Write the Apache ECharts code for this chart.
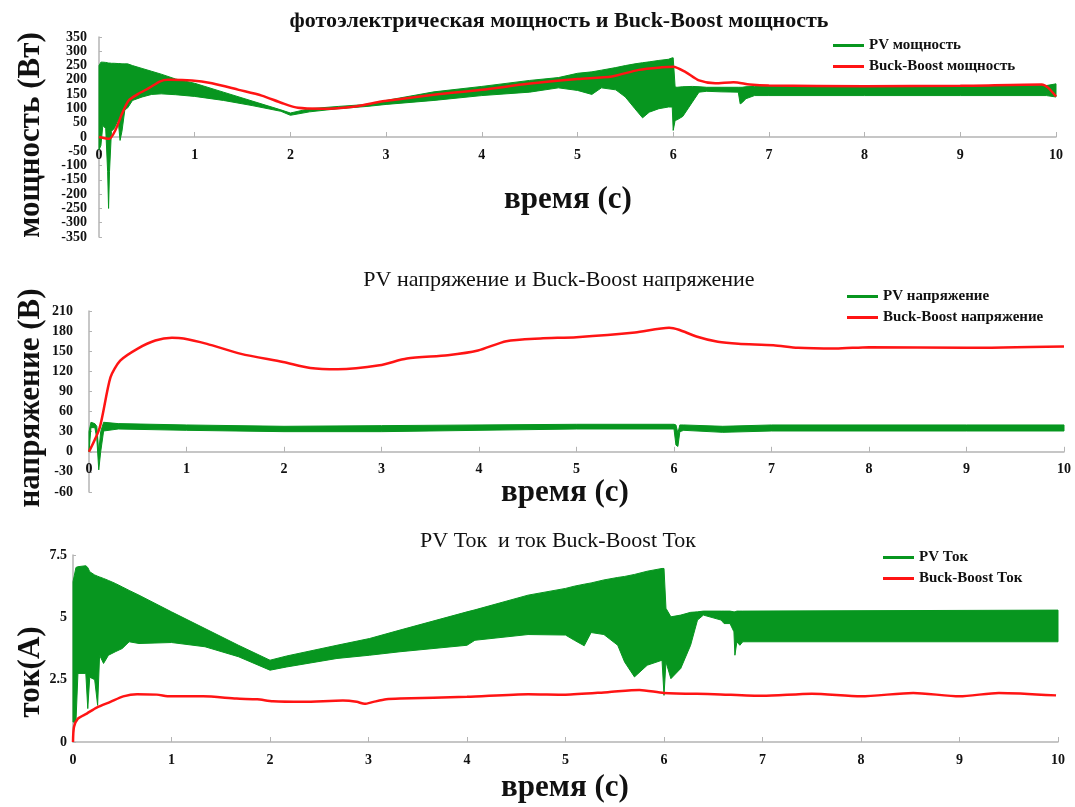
<!DOCTYPE html>
<html>
<head>
<meta charset="utf-8">
<title>PV и Buck-Boost</title>
<script src="https://cdn.jsdelivr.net/npm/echarts@6/dist/echarts.min.js"></script>
<style>
  html, body { margin: 0; padding: 0; background: #fff; }
  #main { width: 1075px; height: 807px; }
</style>
</head>
<body>
<div id="main"></div>
<script>
// ---------- данные ----------
// 1) мощность: зелёная полоса PV (верхняя/нижняя огибающая) и красная линия Buck-Boost
const pvPowerT = [0, 0.02, 0.04, 0.07, 0.09, 0.1, 0.11, 0.13, 0.16, 0.2, 0.22, 0.24, 0.27, 0.3, 0.35, 0.45, 0.55, 0.65, 0.8, 1.0,
  1.3, 1.6, 1.9, 2.0, 2.2, 2.5, 2.8, 3.0, 3.5, 4.0, 4.5, 4.8, 5.0, 5.15, 5.25, 5.4, 5.5, 5.6, 5.68, 5.75,
  5.85, 5.95, 5.99, 6.0, 6.02, 6.04, 6.1, 6.2, 6.27, 6.35, 6.5, 6.68, 6.7, 6.72, 6.76, 6.85, 7, 8, 9, 9.9, 10];
const pvPowerHigh = [250, 262, 262, 261, 260, 259, 259, 258, 258, 257, 257, 256, 256, 256, 250, 240, 230, 220, 203, 188,
  157, 126, 95, 84, 99, 107, 114, 128, 158, 177, 198, 208, 223, 228, 234, 243, 250, 256, 260, 263,
  268, 272, 277, 277, 175, 174, 176, 177, 176, 174, 174, 174, 174, 174, 176, 177, 177, 177, 178, 180, 186];
const pvPowerLow = [-45, -30, 40, 30, -120, -250, -120, 20, 30, 60, -12, 20, 95, 102, 128, 140, 149, 151, 148, 142,
  128, 110, 90, 76, 88, 99, 107, 114, 128, 145, 157, 172, 163, 149, 172, 165, 140, 99, 67, 87,
  99, 105, 105, 23, 58, 60, 72, 122, 157, 160, 158, 157, 116, 120, 134, 145, 145, 145, 145, 145, 140];
const bbPowerT = [0, 0.06, 0.11, 0.17, 0.24, 0.31, 0.41, 0.52, 0.64, 0.72, 0.97, 1.18, 1.46, 1.7, 1.91, 2.08, 2.33, 2.68, 2.95, 3.09,
  3.5, 4.0, 4.48, 5.0, 5.36, 5.64, 5.88, 6.0, 6.13, 6.27, 6.44, 6.63, 6.8, 7.0, 8.0, 9.0, 9.85, 9.92, 10];
const bbPower = [0, -4, -6, 23, 81, 128, 151, 171, 195, 200, 198, 188, 165, 145, 119, 102, 99, 107, 124, 130,
  148, 165, 186, 203, 212, 235, 244, 246, 227, 198, 188, 192, 184, 180, 178, 179, 184, 172, 142];

// 2) напряжение
const pvVoltT = [0, 0.02, 0.06, 0.08, 0.1, 0.12, 0.15, 0.3, 1, 2, 3, 4, 5, 6.0, 6.02, 6.04, 6.06, 6.1, 6.5, 7, 8, 9, 10];
const pvVoltHigh = [30, 44, 42, 38, 0, 30, 44, 42, 40, 38, 39, 40, 41, 41, 40, 28, 40, 40, 38, 40, 40, 40, 40];
const pvVoltLow = [0, 36, 36, 20, -27, 0, 31, 34, 32, 30, 30, 32, 34, 34, 10, 8, 30, 32, 29, 31, 31, 31, 31];
const bbVoltT = [0, 0.11, 0.22, 0.32, 0.5, 0.68, 0.85, 0.97, 1.21, 1.56, 1.99, 2.27, 2.55, 2.98, 3.26, 3.68, 3.99, 4.28, 4.63, 5.0,
  5.6, 5.95, 6.05, 6.23, 6.45, 6.66, 7.02, 7.27, 7.66, 8.0, 9.0, 10];
const bbVolt = [0, 36, 111, 136, 154, 166, 170, 169, 161, 146, 134, 125, 123, 129, 139, 144, 151, 165, 169, 171,
  178, 185, 182, 172, 164, 161, 159, 155, 154, 156, 155, 157];

// 3) ток
const pvCurT = [0, 0.03, 0.05, 0.13, 0.15, 0.17, 0.22, 0.25, 0.27, 0.31, 0.36, 0.43, 0.5, 0.57, 0.67, 1.0, 1.34, 1.68, 2.0, 2.17,
  2.68, 3.01, 3.32, 4.0, 4.08, 4.62, 5.0, 5.09, 5.19, 5.26, 5.39, 5.53, 5.6, 5.7, 5.83, 5.98, 6.0, 6.02, 6.07, 6.17,
  6.27, 6.34, 6.4, 6.58, 6.61, 6.67, 6.71, 6.72, 6.74, 6.77, 6.8, 10];
const pvCurHigh = [6.43, 7.0, 7.03, 7.07, 7.0, 6.83, 6.7, 6.65, 6.62, 6.56, 6.48, 6.36, 6.22, 6.08, 5.89, 5.22, 4.55, 3.88, 3.28, 3.45,
  3.88, 4.15, 4.49, 5.22, 5.3, 5.89, 6.16, 6.25, 6.33, 6.38, 6.5, 6.6, 6.64, 6.72, 6.85, 6.96, 6.96, 5.36, 5.02, 5.09,
  5.2, 5.22, 5.25, 5.25, 5.25, 5.25, 5.22, 5.22, 5.25, 5.25, 5.25, 5.29];
const pvCurLow = [0.8, 0.8, 2.75, 2.75, 1.34, 2.6, 2.5, 1.47, 3.48, 3.15, 3.48, 3.62, 3.75, 4.02, 3.95, 3.99, 3.82, 3.42, 2.88, 3.01,
  3.35, 3.48, 3.62, 3.88, 4.08, 4.31, 4.29, 4.08, 3.86, 4.39, 4.31, 3.88, 3.21, 2.61, 3.08, 3.28, 1.87, 3.21, 2.54, 2.95,
  3.88, 4.89, 5.09, 4.89, 4.75, 4.75, 4.42, 3.48, 4.02, 3.88, 4.02, 4.02];
const bbCurT = [0, 0.01, 0.05, 0.14, 0.24, 0.38, 0.51, 0.65, 0.85, 0.99, 1.32, 1.66, 1.87, 2.03, 2.34, 2.74, 2.88, 2.96, 3.05, 3.18,
  3.32, 4.0, 4.62, 5.0, 5.43, 5.75, 6.0, 6.51, 7.0, 7.5, 8.0, 8.53, 9.0, 9.4, 9.98];
const bbCur = [0, 0.6, 0.94, 1.14, 1.38, 1.61, 1.83, 1.92, 1.9, 1.83, 1.83, 1.74, 1.71, 1.63, 1.61, 1.66, 1.61, 1.53, 1.61, 1.71,
  1.74, 1.81, 1.92, 1.9, 2.0, 2.09, 1.97, 1.92, 1.85, 1.94, 1.83, 1.97, 1.83, 1.97, 1.87];

// ---------- оформление ----------
const GREEN = '#07961f';
const RED = '#ff1414';
const AXIS = '#b4b4b4';
const INK = '#111';
const FONT = '"Liberation Serif", "Times New Roman", serif';

function pairs(t, v) {
  return t.map((x, i) => [x, v[i]]);
}

// ось времени; offset поднимает её к нулю оси Y вместе с подписями
function xAxisCfg(grid, offset) {
  return {
    type: 'value', gridIndex: grid, min: 0, max: 10, interval: 1, offset: offset,
    axisLine: { onZero: false, lineStyle: { color: AXIS, width: 1.5 } },
    axisTick: { inside: true, length: 5, lineStyle: { color: AXIS } },
    axisLabel: { fontFamily: FONT, fontWeight: 'bold', fontSize: 14, color: INK, margin: 11 },
    splitLine: { show: false }
  };
}

function yAxisCfg(grid, min, max, interval, margin) {
  return {
    type: 'value', gridIndex: grid, min: min, max: max, interval: interval,
    axisLine: { show: true, onZero: false, lineStyle: { color: AXIS, width: 1.5 } },
    axisTick: { show: true, inside: true, length: 3, lineStyle: { color: AXIS } },
    axisLabel: { fontFamily: FONT, fontWeight: 'bold', fontSize: 14, color: INK, margin: margin },
    splitLine: { show: false }
  };
}

// зелёная полоса пульсаций: многоугольник между верхней и нижней огибающей,
// точки переводятся в пиксели через оси самой ECharts (api.coord)
function bandSeries(idx, name, t, hi, lo) {
  return {
    name: name, type: 'custom', coordinateSystem: 'cartesian2d',
    xAxisIndex: idx, yAxisIndex: idx, silent: true,
    itemStyle: { color: GREEN },
    encode: { x: 0, y: 1 },
    data: [[t[0], hi[0]]],
    renderItem: function (params, api) {
      const upper = t.map((x, i) => api.coord([x, hi[i]]));
      const lower = t.map((x, i) => api.coord([x, lo[i]])).reverse();
      return {
        type: 'polygon',
        shape: { points: upper.concat(lower) },
        style: { fill: GREEN, stroke: GREEN, lineWidth: 1 }
      };
    }
  };
}

function redSeries(idx, name, t, v) {
  return {
    name: name, type: 'line', xAxisIndex: idx, yAxisIndex: idx, symbol: 'none',
    smooth: 0.25, lineStyle: { color: RED, width: 2.5 }, itemStyle: { color: RED },
    data: pairs(t, v), z: 5
  };
}

function legendCfg(left, top, names) {
  return {
    orient: 'vertical', left: left, top: top, data: names, padding: 0,
    icon: 'rect', itemWidth: 31, itemHeight: 3, itemGap: 6,
    textStyle: { fontFamily: FONT, fontWeight: 'bold', fontSize: 15, color: INK }
  };
}

// текст по центру в заданной точке (заголовки и подписи осей)
function label(text, x, y, size, bold, vertical) {
  return {
    type: 'text', x: x, y: y, rotation: vertical ? Math.PI / 2 : 0,
    style: {
      text: text, fontFamily: FONT, fontWeight: bold ? 'bold' : 'normal', fontSize: size,
      fill: INK, align: 'center', verticalAlign: 'middle'
    }
  };
}

const chart = echarts.init(document.getElementById('main'), null, { renderer: 'canvas' });

const option = {
  animation: false,
  backgroundColor: '#fff',
  legend: [
    legendCfg(833, 38, ['PV мощность', 'Buck-Boost мощность']),
    legendCfg(847, 289, ['PV напряжение', 'Buck-Boost напряжение']),
    legendCfg(883, 550, ['PV Ток', 'Buck-Boost Ток'])
  ],
  grid: [
    { left: 99, top: 37, width: 957, height: 200 },
    { left: 89, top: 311, width: 975, height: 181 },
    { left: 73, top: 555, width: 985, height: 187 }
  ],
  xAxis: [xAxisCfg(0, -100), xAxisCfg(1, -40.2), xAxisCfg(2, 0)],
  yAxis: [
    yAxisCfg(0, -350, 350, 50, 12),
    yAxisCfg(1, -60, 210, 30, 16),
    yAxisCfg(2, 0, 7.5, 2.5, 6)
  ],
  graphic: [
    label('фотоэлектрическая мощность и Buck-Boost мощность', 559, 21, 22, true, false),
    label('PV напряжение и Buck-Boost напряжение', 559, 280, 22, false, false),
    label('PV Ток  и ток Buck-Boost Ток', 558, 541, 22, false, false),
    label('мощность (Вт)', 31, 135, 31, true, true),
    label('напряжение (В)', 31, 398, 31, true, true),
    label('ток(А)', 31, 672, 31, true, true),
    label('время (с)', 568, 200, 31, true, false),
    label('время (с)', 565, 493, 31, true, false),
    label('время (с)', 565, 788, 31, true, false)
  ],
  series: [
    bandSeries(0, 'PV мощность', pvPowerT, pvPowerHigh, pvPowerLow),
    redSeries(0, 'Buck-Boost мощность', bbPowerT, bbPower),
    bandSeries(1, 'PV напряжение', pvVoltT, pvVoltHigh, pvVoltLow),
    redSeries(1, 'Buck-Boost напряжение', bbVoltT, bbVolt),
    bandSeries(2, 'PV Ток', pvCurT, pvCurHigh, pvCurLow),
    redSeries(2, 'Buck-Boost Ток', bbCurT, bbCur)
  ]
};

chart.setOption(option);
</script>
</body>
</html>
